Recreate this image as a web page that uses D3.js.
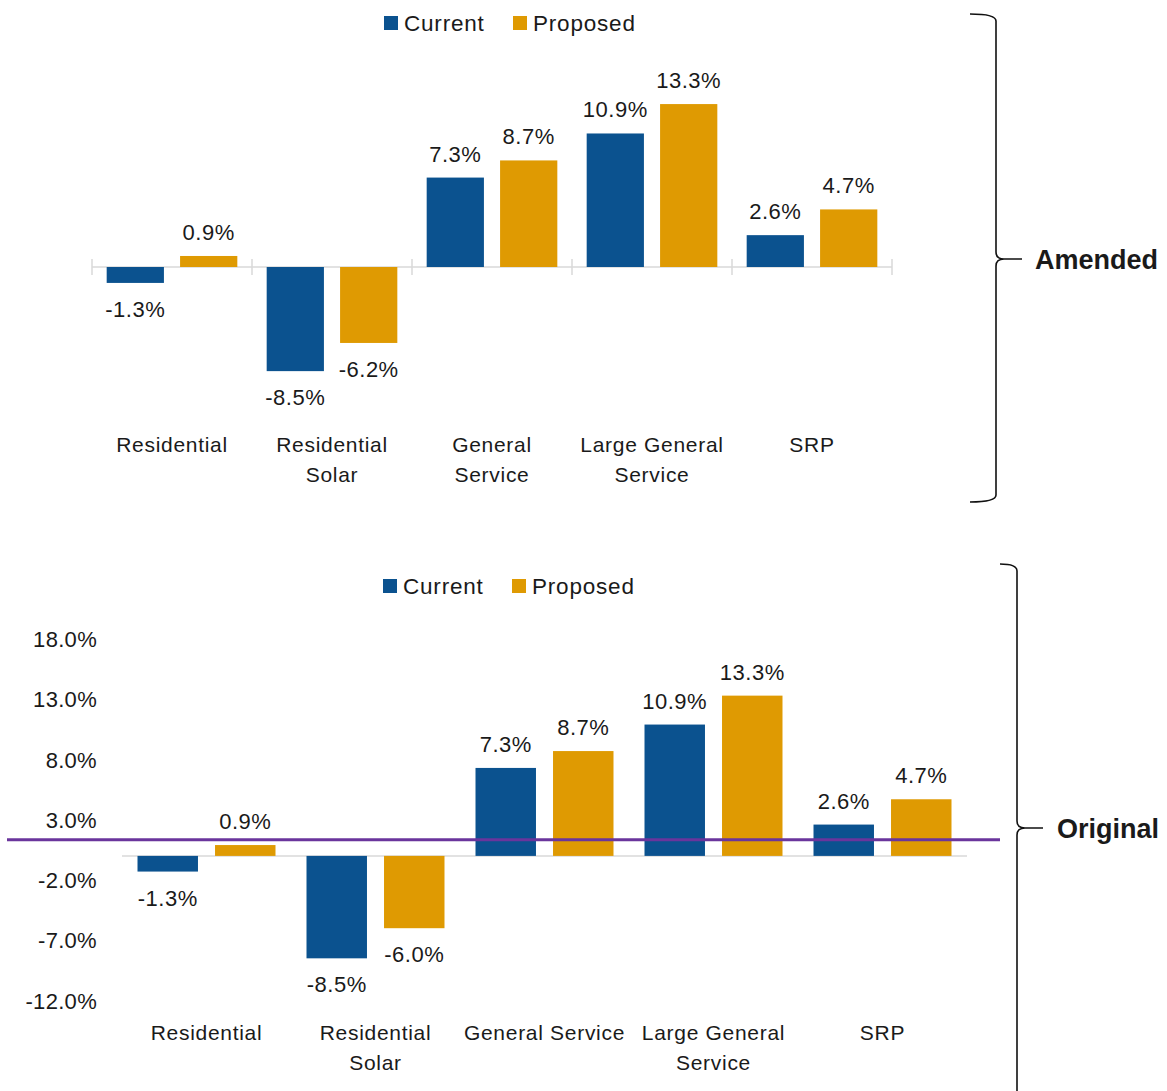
<!DOCTYPE html>
<html>
<head>
<meta charset="utf-8">
<script src="https://cdn.jsdelivr.net/npm/d3@7"></script>
<style>
  html, body { margin: 0; padding: 0; background: #fff; }
  svg { display: block; }
  text { font-family: "Liberation Sans", Arial, sans-serif; fill: #1a1a1a; }
</style>
</head>
<body>
<svg id="chart" width="1167" height="1091"></svg>
<script>
// Rate change by customer class, current vs proposed
const categories = ["Residential", "Residential Solar", "General Service", "Large General Service", "SRP"];
const seriesNames = ["Current", "Proposed"];

const amendedTickLines = [["Residential"], ["Residential", "Solar"], ["General", "Service"], ["Large General", "Service"], ["SRP"]];
const amendedCurrent = [-1.3, -8.5, 7.3, 10.9, 2.6];
const amendedProposed = [0.9, -6.2, 8.7, 13.3, 4.7];

const originalTickLines = [["Residential"], ["Residential", "Solar"], ["General Service"], ["Large General", "Service"], ["SRP"]];
const originalCurrent = [-1.3, -8.5, 7.3, 10.9, 2.6];
const originalProposed = [0.9, -6.0, 8.7, 13.3, 4.7];
const originalYTicks = [-12, -7, -2, 3, 8, 13, 18];
const originalReferenceLevel = 1.35;

const colors = { Current: "#0B528F", Proposed: "#DF9A02" };
const svg = d3.select("#chart");

function pct(v) { return v.toFixed(1) + "%"; }

function drawPanel(opt) {
  const g = svg.append("g");
  const x0 = d3.scaleBand().domain(categories).range(opt.xRange).paddingInner(0).paddingOuter(0);
  const x1 = d3.scaleBand().domain(seriesNames).range([0, x0.bandwidth()]).paddingInner(0.22).paddingOuter(0.2);
  const y = d3.scaleLinear().domain([-12, 18]).range(opt.yRange);

  const rows = categories.map((c, i) => ({
    cat: c,
    vals: [{ s: "Current", v: opt.current[i] }, { s: "Proposed", v: opt.proposed[i] }]
  }));

  // zero baseline
  g.append("line")
    .attr("x1", opt.xRange[0]).attr("x2", opt.xRange[1])
    .attr("y1", y(0)).attr("y2", y(0))
    .attr("stroke", "#d9d9d9").attr("stroke-width", 1.5);

  if (opt.boundaryTicks) {
    const edges = categories.map(c => x0(c)).concat([opt.xRange[1]]);
    g.selectAll(".btick").data(edges).join("line")
      .attr("x1", d => d).attr("x2", d => d)
      .attr("y1", y(0) - 8).attr("y2", y(0) + 8)
      .attr("stroke", "#d9d9d9").attr("stroke-width", 1.5);
  }

  if (opt.yTicks) {
    g.selectAll(".ytick").data(opt.yTicks).join("text")
      .attr("x", opt.yLabelX).attr("y", d => y(d) + 8)
      .attr("text-anchor", "end").attr("font-size", 22).attr("letter-spacing", 0.3)
      .text(pct);
  }

  const grp = g.selectAll(".grp").data(rows).join("g")
    .attr("transform", d => `translate(${x0(d.cat)},0)`);

  grp.selectAll("rect").data(d => d.vals).join("rect")
    .attr("x", d => x1(d.s))
    .attr("width", x1.bandwidth())
    .attr("y", d => y(Math.max(0, d.v)))
    .attr("height", d => Math.abs(y(d.v) - y(0)))
    .attr("fill", d => colors[d.s]);

  grp.selectAll(".val").data(d => d.vals).join("text")
    .attr("class", "val")
    .attr("x", d => x1(d.s) + x1.bandwidth() / 2)
    .attr("y", d => d.v >= 0 ? y(d.v) - 16 : y(d.v) + 34)
    .attr("text-anchor", "middle").attr("font-size", 22).attr("letter-spacing", 0.5)
    .text(d => pct(d.v));

  // category labels
  categories.forEach((c, i) => {
    const t = g.append("text")
      .attr("x", x0(c) + x0.bandwidth() / 2)
      .attr("y", opt.catY)
      .attr("text-anchor", "middle").attr("font-size", 21)
      .attr("letter-spacing", 0.7);
    opt.tickLines[i].forEach((line, j) => {
      t.append("tspan").attr("x", x0(c) + x0.bandwidth() / 2)
        .attr("dy", j === 0 ? 0 : 30).text(line);
    });
  });

  // legend
  const lg = g.append("g").attr("transform", `translate(${opt.legend[0]},${opt.legend[1]})`);
  const offsets = [0, 129];
  seriesNames.forEach((s, i) => {
    lg.append("rect").attr("x", offsets[i]).attr("y", -15).attr("width", 14).attr("height", 14)
      .attr("fill", colors[s]);
    lg.append("text").attr("x", offsets[i] + 20).attr("y", 0)
      .attr("font-size", 22.5).attr("letter-spacing", 0.8).text(s);
  });

  if (opt.reference !== undefined) {
    g.append("line")
      .attr("x1", 7).attr("x2", 1000)
      .attr("y1", y(opt.reference)).attr("y2", y(opt.reference))
      .attr("stroke", "#6A359C").attr("stroke-width", 3);
  }
}

drawPanel({
  xRange: [92, 892], yRange: [267 + 12 * 12.25, 267 - 18 * 12.25],
  current: amendedCurrent, proposed: amendedProposed,
  tickLines: amendedTickLines, catY: 452, legend: [384, 31], boundaryTicks: true
});

drawPanel({
  xRange: [122, 967], yRange: [1000.5, 639],
  current: originalCurrent, proposed: originalProposed,
  tickLines: originalTickLines, catY: 1040, legend: [383, 594],
  yTicks: originalYTicks, yLabelX: 97, reference: originalReferenceLevel
});

// curly braces with panel names
function brace(xEnd, xLine, yTop, yBot, yTip, xTip, label, labelX) {
  const r = 7;
  const p = d3.path();
  p.moveTo(xEnd, yTop);
  p.quadraticCurveTo(xLine, yTop, xLine, yTop + r);
  p.lineTo(xLine, yTip - r);
  p.quadraticCurveTo(xLine, yTip, xLine + 8, yTip);
  p.lineTo(xTip, yTip);
  p.moveTo(xLine + 8, yTip);
  p.quadraticCurveTo(xLine, yTip, xLine, yTip + r);
  p.lineTo(xLine, yBot - r);
  p.quadraticCurveTo(xLine, yBot, xEnd, yBot);
  svg.append("path").attr("d", p.toString())
    .attr("fill", "none").attr("stroke", "#111").attr("stroke-width", 1.6);
  svg.append("text").attr("x", labelX).attr("y", yTip + 10)
    .attr("font-size", 27).attr("font-weight", "bold").attr("fill", "#000")
    .text(label);
}
brace(970, 996, 14, 502, 259, 1022, "Amended", 1035);
brace(1000, 1017, 564, 1110, 828, 1043, "Original", 1057);
</script>
</body>
</html>
